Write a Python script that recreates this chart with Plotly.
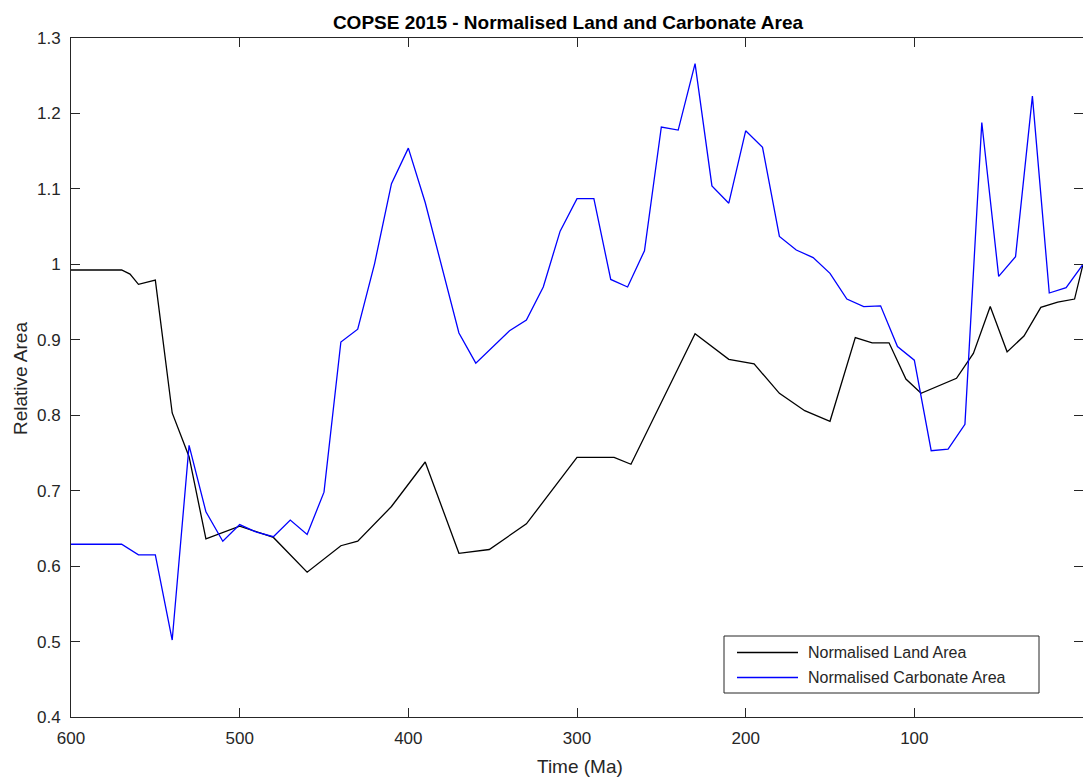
import plotly.graph_objects as go

# Normalised land area (Ma, relative to present)
land_time = [600, 570, 565, 560, 550, 540, 530, 520, 500, 480, 460, 440, 430, 410,
             390, 370, 352, 330, 300, 278, 268, 230, 210, 195, 180, 165, 150, 135,
             125, 115, 105, 96, 75, 65, 55, 45, 35, 25, 15, 5, 0]
land_area = [0.9925, 0.9925, 0.987, 0.9735, 0.979, 0.803, 0.745, 0.636, 0.653, 0.638,
             0.592, 0.627, 0.633, 0.679, 0.738, 0.617, 0.622, 0.656, 0.744, 0.744,
             0.735, 0.908, 0.874, 0.868, 0.829, 0.806, 0.792, 0.903, 0.896, 0.896,
             0.848, 0.829, 0.849, 0.882, 0.944, 0.884, 0.905, 0.943, 0.950, 0.954, 1.0]

# Normalised carbonate area (Ma, relative to present)
carb_time = [600, 570, 560, 550, 540, 530, 520, 510, 500, 490, 480, 470, 460, 450,
             440, 430, 420, 410, 400, 390, 370, 360, 340, 330, 320, 310, 300, 290,
             280, 270, 260, 250, 240, 230, 220, 210, 200, 190, 180, 170, 160, 150,
             140, 130, 120, 110, 100, 90, 80, 70, 60, 50, 40, 30, 20, 10, 0]
carb_area = [0.629, 0.629, 0.615, 0.615, 0.502, 0.760, 0.672, 0.633, 0.655, 0.645,
             0.639, 0.661, 0.642, 0.698, 0.897, 0.914, 1.001, 1.107, 1.154, 1.082,
             0.909, 0.869, 0.912, 0.926, 0.970, 1.044, 1.087, 1.087, 0.980, 0.970,
             1.018, 1.182, 1.178, 1.266, 1.104, 1.081, 1.177, 1.155, 1.037, 1.019,
             1.009, 0.988, 0.954, 0.944, 0.945, 0.891, 0.873, 0.753, 0.755, 0.788,
             1.188, 0.984, 1.010, 1.223, 0.962, 0.969, 1.0]

series_names = ["Normalised Land Area", "Normalised Carbonate Area"]
series_colors = ["#000000", "#0000ff"]

x_ticks = [600, 500, 400, 300, 200, 100, 0]
y_ticks = [0.4, 0.5, 0.6, 0.7, 0.8, 0.9, 1.0, 1.1, 1.2, 1.3]
y_tick_text = ["0.4", "0.5", "0.6", "0.7", "0.8", "0.9", "1", "1.1", "1.2", "1.3"]

FONT = "Liberation Sans, Arial, Helvetica, sans-serif"
INK = "#262626"
W, H = 1083, 778
ML, MR, MT, MB = 71, 0, 38, 61
PW, PH = W - ML - MR, H - MT - MB


def px(xp):
    return (xp - ML) / PW


def py(yp):
    return (H - MB - yp) / PH


fig = go.Figure()
for t, v, name, col in [(land_time, land_area, series_names[0], series_colors[0]),
                        (carb_time, carb_area, series_names[1], series_colors[1])]:
    fig.add_trace(go.Scatter(x=t, y=v, mode="lines", name=name,
                             line=dict(color=col, width=1.3)))

axis_common = dict(ticks="inside", ticklen=9, tickwidth=1, tickcolor=INK,
                   showline=True, linecolor=INK, linewidth=1, mirror="ticks",
                   showgrid=False, zeroline=False,
                   tickfont=dict(family=FONT, size=17, color=INK))

fig.update_xaxes(range=[600, 0], tickvals=x_ticks, ticklabelstandoff=6, **axis_common)
fig.update_yaxes(range=[0.4, 1.3], tickvals=y_ticks, ticktext=y_tick_text,
                 ticklabelstandoff=6, **axis_common)

# Legend box drawn in paper space
shapes = [dict(type="rect", xref="paper", yref="paper",
               x0=px(724), x1=px(1039), y0=py(693), y1=py(636),
               line=dict(color=INK, width=1), fillcolor="white", layer="above")]
annotations = []
for i, (name, col) in enumerate(zip(series_names, series_colors)):
    yy = py(652.5 + 25 * i)
    shapes.append(dict(type="line", xref="paper", yref="paper",
                       x0=px(737), x1=px(798), y0=yy, y1=yy,
                       line=dict(color=col, width=1.3), layer="above"))
    annotations.append(dict(text=name, xref="paper", yref="paper", x=px(806), y=yy,
                            xanchor="left", yanchor="middle", showarrow=False,
                            font=dict(family=FONT, size=16, color=INK)))

# Axis titles
annotations.append(dict(text="Time (Ma)", xref="paper", yref="paper",
                        x=px(580), y=py(766), xanchor="center", yanchor="middle",
                        showarrow=False, font=dict(family=FONT, size=19, color=INK)))
annotations.append(dict(text="Relative Area", xref="paper", yref="paper",
                        x=px(20), y=py(379), xanchor="center", yanchor="middle",
                        textangle=-90, showarrow=False,
                        font=dict(family=FONT, size=19, color=INK)))

fig.update_layout(
    width=W, height=H,
    margin=dict(l=ML, r=MR, t=MT, b=MB),
    paper_bgcolor="white", plot_bgcolor="white",
    showlegend=False,
    title=dict(text="<b>COPSE 2015 - Normalised Land and Carbonate Area</b>",
               xref="container", yref="container",
               x=568 / W, xanchor="center", y=1 - 22 / H, yanchor="middle",
               font=dict(family=FONT, size=19, color="black")),
    shapes=shapes,
    annotations=annotations,
)

fig.write_html("out.html")
